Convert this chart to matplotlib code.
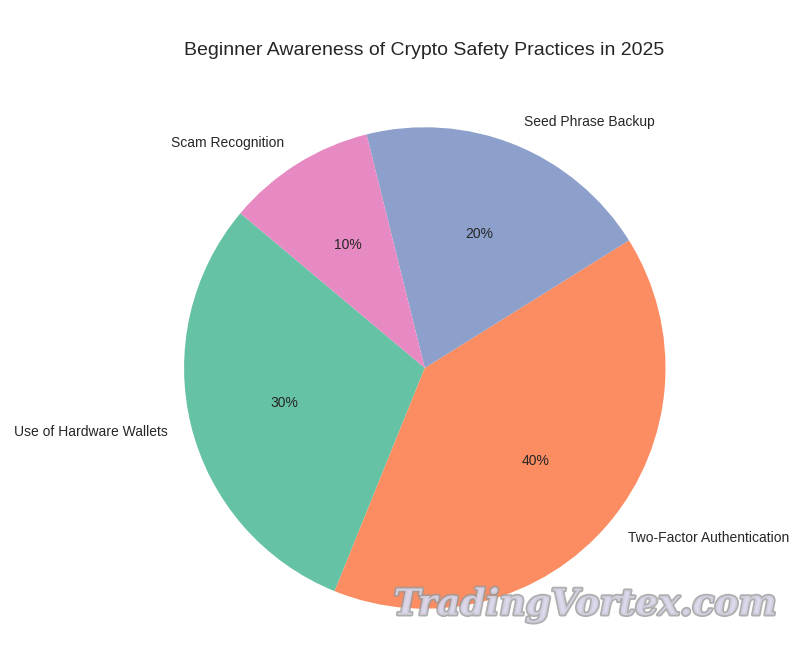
import matplotlib
matplotlib.use("Agg")
import matplotlib.pyplot as plt
import matplotlib.patheffects as pe

# data
labels = ["Use of Hardware Wallets", "Two-Factor Authentication",
          "Seed Phrase Backup", "Scam Recognition"]
shares = [30, 40, 20, 10]
colors = ["#66c2a5", "#fc8d62", "#8da0cb", "#e78ac3"]
title = "Beginner Awareness of Crypto Safety Practices in 2025"

plt.rcParams["font.family"] = ["Liberation Sans", "DejaVu Sans"]
plt.rcParams["text.color"] = "#262626"

fig = plt.figure(figsize=(7.94, 6.45), dpi=100)
ax = fig.add_axes([0.156, -0.037, 0.758, 0.933])

ax.pie(shares, labels=labels, colors=colors, autopct="%1.0f%%",
       startangle=140, textprops={"fontsize": 10, "color": "#262626"})
ax.set_aspect("equal")

fig.text(0.534, 0.922, title, ha="center", va="center", fontsize=14)

# watermark
wm = fig.text(0.737, 0.062, "TradingVortex.com", ha="center", va="center",
              fontsize=26, family="DejaVu Serif", style="italic", weight="bold",
              color="#dcd8ec", alpha=0.8)
wm.set_path_effects([pe.withStroke(linewidth=2.5, foreground="#9a9a9a")])

fig.savefig("out.png", dpi=100)
